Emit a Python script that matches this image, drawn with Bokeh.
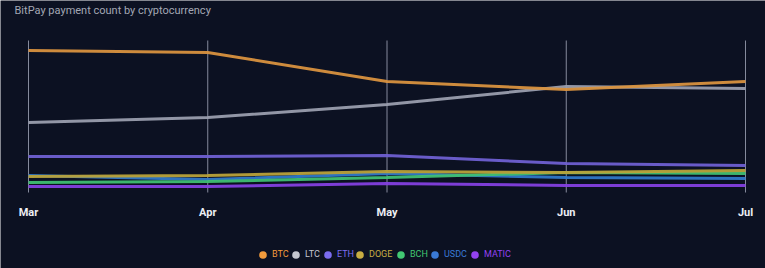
import numpy as np
from bokeh.plotting import figure
from bokeh.models import Range1d, Legend, LegendItem, Label
from bokeh.core.properties import value
from bokeh.embed import file_html
from bokeh.resources import INLINE

months = ["Mar", "Apr", "May", "Jun", "Jul"]
series_names = ["BTC", "LTC", "ETH", "DOGE", "BCH", "USDC", "MATIC"]
btc = [142, 140, 111, 103, 111]
ltc = [70, 75, 88, 106, 104]
eth = [36, 36, 37, 29, 27]
doge = [16, 17, 21, 20, 22]
bch = [10, 11, 15, 20, 19]
usdc = [17, 13, 19, 15, 14]
matic = [6, 6, 9, 7, 7]
series_values = [btc, ltc, eth, doge, bch, usdc, matic]

line_colors = ["#d9923f", "#9a9eae", "#6f60d2", "#b9a23a", "#3fbf73", "#2f78c8", "#8440e0"]
legend_colors = ["#f29b3c", "#c4c6d0", "#7b6cf0", "#c8ad42", "#42c873", "#3a7ad6", "#9342f0"]
BG = "#0c1122"

W, H = 765, 268
left_px, right_px, top_px, bottom_px = 28, 745, 40, 192
step = (right_px - left_px) / (len(months) - 1)
y_lo, y_hi = 0, bottom_px - top_px  # value axis spans the plotting band

p = figure(width=W, height=H, output_backend="svg", toolbar_location=None,
           x_range=Range1d(-left_px / step, (W - left_px) / step),
           y_range=Range1d(bottom_px - H, bottom_px),
           min_border=0)
p.background_fill_color = BG
p.border_fill_color = BG
p.outline_line_color = None
p.axis.visible = False
p.grid.visible = False

xs = list(range(len(months)))

# vertical month guides
p.segment(x0=xs, y0=[y_lo] * len(xs), x1=xs, y1=[y_hi] * len(xs),
          line_color="#858a9c", line_width=1)

# month labels
p.text(x=xs, y=[-20] * len(xs), text=months, text_align="center", text_baseline="middle",
       text_color="#eceef4", text_font=value("Roboto"), text_font_size="11px",
       text_font_style="bold")

order = [6, 5, 4, 3, 2, 1, 0]
for i in order:
    p.line(xs, series_values[i], line_color=line_colors[i], line_width=3, line_alpha=0.95)

centers = [263, 296, 328, 360, 401, 435, 475]
gw = 19
for i, name in enumerate(series_names):
    r = p.scatter(x=[np.nan], y=[np.nan], marker="circle", size=8,
                  fill_color=legend_colors[i], line_color=None)
    lg = Legend(items=[LegendItem(label=name, renderers=[r])],
                location=(centers[i] - gw / 2 - 0.5, 4.5),
                glyph_width=gw, glyph_height=gw, label_standoff=0,
                padding=0, margin=0, spacing=0,
                label_text_color=legend_colors[i], label_text_font="Roboto",
                label_text_font_size="9px", label_height=10,
                background_fill_alpha=0, border_line_alpha=0)
    p.add_layout(lg, "center")

title = Label(x=14, y=H - 3, x_units="screen", y_units="screen",
              text="BitPay payment count by cryptocurrency", text_baseline="top",
              text_color="#a3a7b4", text_font="Roboto", text_font_size="11px")
p.add_layout(title)

open("out.html", "w").write(file_html(p, INLINE))
